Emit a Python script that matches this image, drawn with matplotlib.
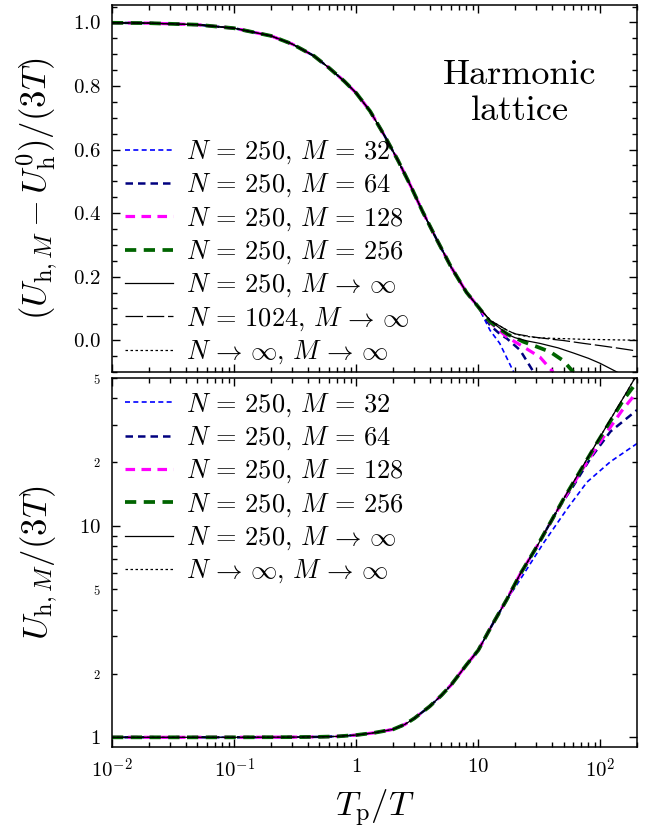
import matplotlib
matplotlib.use("Agg")
import matplotlib.pyplot as plt
from matplotlib.ticker import FixedLocator, FuncFormatter, MultipleLocator, LogLocator, NullFormatter

plt.rcParams['font.family'] = 'serif'
plt.rcParams['font.serif'] = ['cmr10']
plt.rcParams['mathtext.fontset'] = 'cm'
plt.rcParams['axes.formatter.use_mathtext'] = True
plt.rcParams['axes.unicode_minus'] = False

# ==========================================
# Data
# ==========================================
# shared part of all curves (top panel)
x_common = [0.01, 0.02, 0.05, 0.1, 0.2, 0.3, 0.45, 0.6, 0.8, 1.0, 1.3, 1.7,
            2.2, 2.8, 3.5, 4.5, 6.0, 8.0, 10.0]
top_common = [0.999, 0.998, 0.993, 0.982, 0.958, 0.932, 0.895, 0.857, 0.815, 0.778,
              0.721, 0.645, 0.566, 0.485, 0.405, 0.322, 0.23, 0.151, 0.105]

# tails where the curves separate (top panel)
top_x_m32 = [12.5, 15.0, 19.5]
top_y_m32 = [0.031, -0.010, -0.10]
top_x_m64 = [12.5, 15.0, 17.2, 22.0, 28.4]
top_y_m64 = [0.047, 0.02, 0.005, -0.031, -0.10]
top_x_m128 = [12.5, 15.0, 17.2, 20.0, 23.5, 32.0, 41.0]
top_y_m128 = [0.056, 0.03, 0.010, -0.005, -0.021, -0.053, -0.10]
top_x_m256 = [12.5, 15.0, 17.5, 20.0, 23.5, 30.0, 39.0, 50.0, 60.0]
top_y_m256 = [0.058, 0.035, 0.018, 0.008, -0.005, -0.020, -0.037, -0.065, -0.10]
top_x_n250 = [12.5, 15.0, 17.5, 20.0, 25.0, 32.0, 45.0, 60.0, 80.0, 100.0, 140.0]
top_y_n250 = [0.062, 0.038, 0.018, 0.008, -0.002, -0.010, -0.024, -0.040, -0.057, -0.073, -0.102]
top_x_n1024 = [12.5, 15.0, 17.5, 20.0, 28.4, 40.0, 50.0, 73.0, 100.0, 140.0, 200.0]
top_y_n1024 = [0.063, 0.045, 0.03, 0.02, 0.010, 0.003, -0.001, -0.010, -0.017, -0.025, -0.034]
top_x_inf = [12.5, 15.0, 17.5, 20.7, 25.0, 30.0, 40.0, 50.0, 70.0, 100.0, 140.0, 200.0]
top_y_inf = [0.063, 0.045, 0.03, 0.018, 0.012, 0.008, 0.006, 0.005, 0.003, 0.002, 0.001, 0.0]

# bottom panel
bot_x_common = [0.01, 0.1, 0.3, 0.5, 0.7, 1.0, 1.4, 2.0, 2.5, 3.0, 4.0, 5.0, 6.0,
                8.0, 10.0, 13.0, 17.2]
bot_common = [1.0, 1.0, 1.002, 1.005, 1.01, 1.025, 1.05, 1.09, 1.15, 1.23, 1.40, 1.58,
              1.77, 2.2, 2.58, 3.4, 4.5]
bot_x_m32 = [20.0, 34.3, 53.3, 77.8, 121.0, 200.0]
bot_y_m32 = [5.1, 8.3, 12.0, 16.1, 20.1, 24.5]
bot_x_m64 = [22.0, 30.3, 45.0, 60.4, 82.8, 121.0, 200.0]
bot_y_m64 = [5.85, 8.0, 12.0, 15.5, 20.8, 27.9, 35.3]
bot_x_m128 = [22.0, 30.3, 50.0, 70.0, 100.0, 150.0, 200.0]
bot_y_m128 = [5.9, 8.0, 13.3, 18.2, 25.0, 35.0, 43.0]
bot_x_m256 = [22.0, 30.3, 50.0, 94.0, 155.0, 200.0]
bot_y_m256 = [5.9, 8.0, 13.4, 24.7, 39.5, 48.0]
bot_x_inf = [22.0, 30.3, 50.0, 94.0, 155.0, 200.0]
bot_y_inf = [5.9, 8.0, 13.4, 24.9, 40.5, 52.0]

labels = [r'$N\,=\,250,\,M\,=\,32$', r'$N\,=\,250,\,M\,=\,64$', r'$N\,=\,250,\,M\,=\,128$',
          r'$N\,=\,250,\,M\,\to\,\infty$', r'$N\,=\,1024,\,M\,\to\,\infty$',
          r'$N\,\to\,\infty,\,M\,\to\,\infty$']
labels.insert(3, r'$N\,=\,250,\,M\,=\,256$')

styles = [
    dict(color='#0000ff', lw=1.2, dashes=(3, 2)),
    dict(color='#00007f', lw=1.8, dashes=(3, 2)),
    dict(color='#ff00ff', lw=2.3, dashes=(3, 2)),
    dict(color='#006400', lw=2.7, dashes=(3, 2)),
    dict(color='black', lw=0.9),
    dict(color='black', lw=0.9, dashes=(14, 3)),
    dict(color='black', lw=0.9, dashes=(2, 2)),
]

fig = plt.figure(figsize=(6.49, 8.35), dpi=100)
ax1 = fig.add_axes([0.1726, 0.5545, 0.809, 0.4395])
ax2 = fig.add_axes([0.1726, 0.1054, 0.809, 0.4419], sharex=ax1)

# ==========================================
# Top panel
# ==========================================
top_tails = [(top_x_m32, top_y_m32), (top_x_m64, top_y_m64), (top_x_m128, top_y_m128),
             (top_x_m256, top_y_m256), (top_x_n250, top_y_n250),
             (top_x_n1024, top_y_n1024), (top_x_inf, top_y_inf)]
for (tx, ty), st, lab in zip(top_tails, styles, labels):
    ax1.plot(x_common + tx, top_common + ty, label=lab, **st)

ax1.set_xscale('log')
ax1.set_xlim(0.01, 200)
ax1.set_ylim(-0.1, 1.055)
ax1.yaxis.set_major_locator(MultipleLocator(0.2))
ax1.yaxis.set_minor_locator(MultipleLocator(0.05))
ax1.yaxis.set_major_formatter(FuncFormatter(lambda v, p: r'$%.1f$' % (0.0 if abs(v) < 1e-9 else v)))
ax1.set_ylabel(r'$(U_{\mathrm{h},M}-U_{\mathrm{h}}^{0})/(3T)$', fontsize=25)
ax1.text(0.777, 0.76, 'Harmonic\nlattice', transform=ax1.transAxes, ha='center',
         va='center', multialignment='center', fontsize=26)
ax1.legend(loc='lower left', bbox_to_anchor=(0, -0.02), frameon=False, fontsize=19,
           handlelength=1.8, handletextpad=0.5, labelspacing=0.22, borderaxespad=0.1,
           borderpad=0.4)
plt.setp(ax1.get_xticklabels(), visible=False)

# ==========================================
# Bottom panel
# ==========================================
bot_tails = [(bot_x_m32, bot_y_m32), (bot_x_m64, bot_y_m64), (bot_x_m128, bot_y_m128),
             (bot_x_m256, bot_y_m256), (bot_x_inf, bot_y_inf), (bot_x_inf, bot_y_inf)]
bot_idx = [0, 1, 2, 3, 4, 6]
for (tx, ty), i in zip(bot_tails, bot_idx):
    ax2.plot(bot_x_common + tx, bot_common + ty, label=labels[i], **styles[i])

ax2.set_yscale('log')
ax2.set_ylim(0.9, 50)
ax2.yaxis.set_major_locator(FixedLocator([1, 10]))
ax2.yaxis.set_minor_locator(FixedLocator([2, 3, 4, 5, 6, 7, 8, 9, 20, 30, 40, 50]))
ax2.yaxis.set_major_formatter(FuncFormatter(lambda v, p: r'$%d$' % round(v)))
ax2.yaxis.set_minor_formatter(FuncFormatter(
    lambda v, p: r'$%s$' % str(int(round(v)))[0] if round(v) in (2, 5, 20, 50) else ''))
ax2.set_ylabel(r'$U_{\mathrm{h},M}/(3T)$', fontsize=25)
ax2.set_xlabel(r'$T_{\mathrm{p}}/T$', fontsize=25)
ax2.legend(loc='upper left', frameon=False, fontsize=19, handlelength=1.8,
           handletextpad=0.5, labelspacing=0.22, borderaxespad=0.1, borderpad=0.4)

xt = {0.01: r'$10^{-2}$', 0.1: r'$10^{-1}$', 1: r'$1$', 10: r'$10$', 100: r'$10^{2}$'}
ax2.xaxis.set_major_locator(FixedLocator(list(xt.keys())))
ax2.xaxis.set_major_formatter(FuncFormatter(lambda v, p: xt.get(round(v, 3), '')))
ax2.xaxis.set_minor_locator(LogLocator(base=10, subs=range(2, 10), numticks=20))
ax2.xaxis.set_minor_formatter(NullFormatter())

for ax in (ax1, ax2):
    ax.tick_params(which='both', direction='in', top=True, right=True, width=1.0)
    ax.tick_params(which='major', length=6, labelsize=15, pad=8)
    ax.tick_params(which='minor', length=3.5, labelsize=9, pad=8)
    for s in ax.spines.values():
        s.set_linewidth(1.1)
    ax.yaxis.set_label_coords(-0.10, 0.5)

plt.savefig('out.png', dpi=100)
